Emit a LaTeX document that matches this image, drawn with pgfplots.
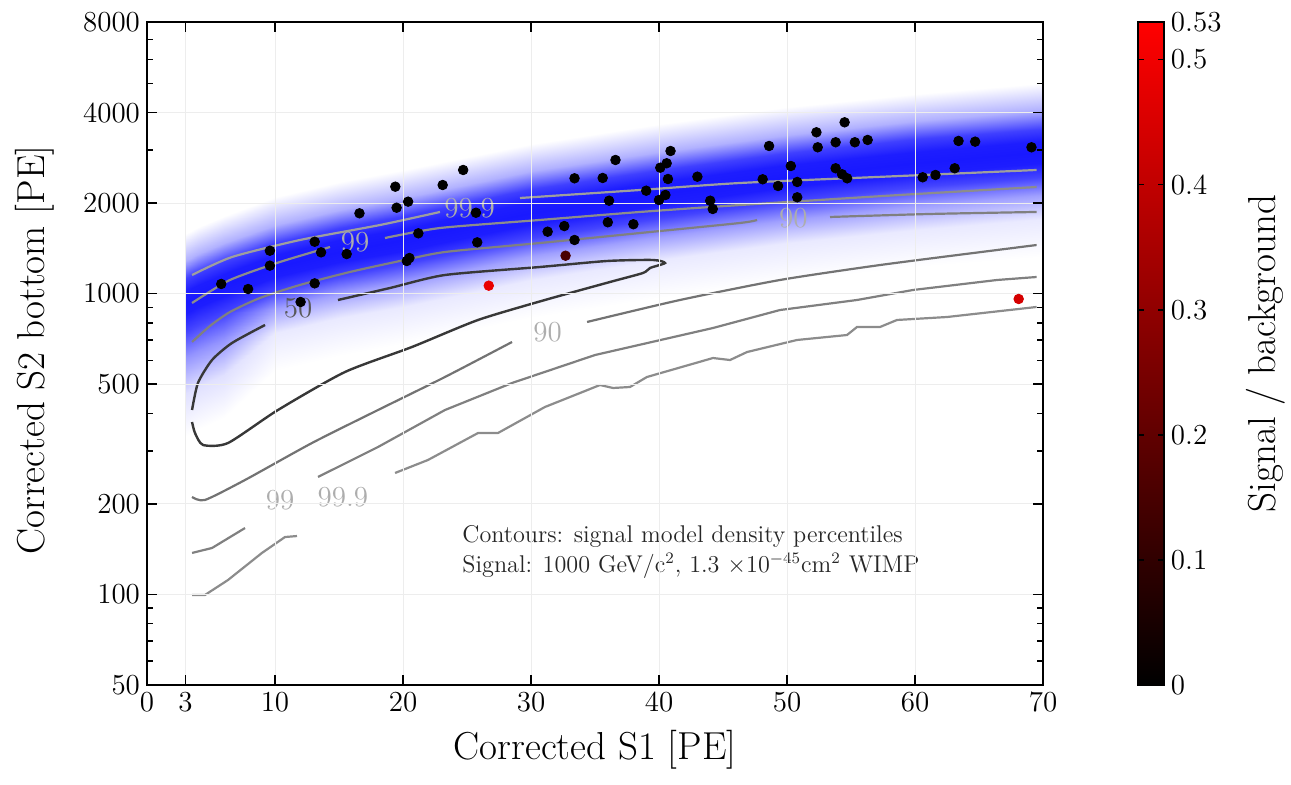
\documentclass[border=0pt]{standalone}
\usepackage{fontspec}
\usepackage{pgfplots}
\pgfplotsset{compat=1.18}
\pgfplotsset{
  colormap={bandblue}{rgb255=(255,255,255) rgb255=(25,25,255)},
  colormap={sbr}{rgb255=(0,0,0) rgb255=(255,0,0)},
}
\newcommand{\tickfont}{\fontsize{14.5}{16}\selectfont}
\newcommand{\labfont}{\fontsize{19.5}{22}\selectfont}
\newcommand{\notefont}{\fontsize{12.1}{14.5}\selectfont}

\pgfplotstableread{
x y m
3 335 0
3 465 0.07
3 614 0.25
3 744 0.43
3 856 0.52
3 930 0.53
3 1014 0.52
3 1116 0.44
3 1283 0.18
3 1581 0
4 353 0
4 490 0.07
4 647 0.25
4 784 0.43
4 902 0.52
4 980 0.53
4 1068 0.52
4 1176 0.44
4 1352 0.18
4 1666 0
6 385 0
6 535 0.07
6 706 0.25
6 856 0.43
6 984 0.52
6 1070 0.53
6 1166 0.52
6 1284 0.44
6 1477 0.18
6 1819 0
10 554 0
10 738 0.05
10 886 0.22
10 1021 0.43
10 1132 0.52
10 1230 0.53
10 1341 0.52
10 1476 0.44
10 1697 0.18
10 2091 0
15 621 0
15 828 0.05
15 994 0.22
15 1145 0.43
15 1270 0.52
15 1380 0.53
15 1504 0.52
15 1656 0.44
15 1904 0.18
15 2346 0
20 680 0
20 906 0.05
20 1087 0.22
20 1253 0.43
20 1389 0.52
20 1510 0.53
20 1646 0.52
20 1812 0.44
20 2084 0.18
20 2567 0
30 833 0
30 1110 0.05
30 1332 0.22
30 1536 0.43
30 1702 0.52
30 1850 0.53
30 2017 0.52
30 2220 0.44
30 2553 0.18
30 3145 0
40 968 0
40 1290 0.05
40 1548 0.22
40 1785 0.43
40 1978 0.52
40 2150 0.53
40 2344 0.52
40 2580 0.44
40 2967 0.18
40 3655 0
50 1103 0
50 1470 0.05
50 1764 0.22
50 2034 0.43
50 2254 0.52
50 2450 0.53
50 2671 0.52
50 2940 0.44
50 3381 0.18
50 4165 0
60 1224 0
60 1632 0.05
60 1958 0.22
60 2258 0.43
60 2502 0.52
60 2720 0.53
60 2965 0.52
60 3264 0.44
60 3754 0.18
60 4624 0
70 1328 0
70 1770 0.05
70 2124 0.22
70 2449 0.43
70 2714 0.52
70 2950 0.53
70 3216 0.52
70 3540 0.44
70 4071 0.18
70 5015 0
}\bandtable

\pgfplotstableread{
x y m
5.8 1077 0
7.9 1036 0
9.6 1389 0
9.6 1239 0
12.0 938 0
13.1 1488 0
13.1 1082 0
13.6 1372 0
15.6 1354 0
16.6 1850 0
19.4 2268 0
19.5 1931 0
20.4 2022 0
21.2 1587 0
20.3 1284 0
20.5 1314 0
23.1 2297 0
24.7 2577 0
25.7 1858 0
25.8 1481 0
31.3 1607 0
32.6 1678 0
33.4 2418 0
33.4 1508 0
32.7 1337 0.15
26.7 1063 0.48
35.6 2424 0
36.6 2782 0
36.1 2037 0
36.0 1727 0
38.0 1701 0
39.0 2199 0
40.0 2048 0
40.5 2128 0
40.1 2623 0
40.6 2713 0
40.9 2980 0
40.7 2405 0
43.0 2448 0
44.0 2037 0
44.2 1912 0
48.6 3097 0
48.1 2400 0
49.3 2280 0
50.3 2657 0
50.8 2351 0
50.8 2091 0
52.3 3439 0
52.4 3066 0
53.8 3186 0
54.5 3712 0
55.3 3186 0
56.3 3243 0
53.8 2611 0
54.3 2494 0
54.7 2418 0
60.6 2437 0
61.6 2480 0
63.1 2611 0
63.4 3218 0
64.7 3201 0
69.1 3066 0
68.1 960 0.44
}\pointtable

\begin{document}
\begin{tikzpicture}
\useasboundingbox (-73.5pt,-49.5pt) rectangle (572pt,342.5pt);
\begin{axis}[
  at={(0,0)}, anchor=south west,
  scale only axis, width=448pt, height=331.5pt,
  xmin=0, xmax=70, ymin=50, ymax=8000, ymode=log,
  xtick={0,3,10,20,30,40,50,60,70},
  xticklabels={0,3,10,20,30,40,50,60,70},
  ytick={50,100,200,500,1000,2000,4000,8000},
  yticklabels={50,100,200,500,1000,2000,4000,8000},
  minor ytick={60,70,80,90,300,400,600,700,800,900,3000,5000,6000,7000},
  tick label style={font=\tickfont},
  xlabel={Corrected S1 [PE]},
  ylabel={Corrected S2 bottom [PE]},
  label style={font=\labfont},
  xlabel style={at={(axis description cs:0.5,-0.098)}, anchor=center},
  ylabel style={at={(axis description cs:-0.125,0.505)}, anchor=center},
  axis line style={line width=1pt},
  tick style={black, line width=0.8pt},
  major tick length=5pt, minor tick length=3pt,
  grid=major, major grid style={black!7, line width=0.5pt},
  axis on top,
  colormap name=sbr,
  point meta min=0, point meta max=0.53,
  colorbar,
  colorbar/width=13pt,
  colorbar shift/.style={xshift=37pt},
  colorbar style={
    ytick={0,0.1,0.2,0.3,0.4,0.5,0.53},
    yticklabels={0,0.1,0.2,0.3,0.4,0.5,0.53},
    yticklabel style={font=\tickfont},
    ylabel={Signal / background},
    ylabel style={font=\labfont, at={(axis description cs:4.9,0.5)}, anchor=center},
    axis line style={line width=0.8pt},
    major tick length=3pt,
  },
]
% background density band
\addplot[surf, shader=interp, colormap name=bandblue, mesh/cols=10,
  point meta=explicit, forget plot] table[x=x, y=y, meta=m] {\bandtable};

% 50 percentile contour
\addplot[no marks, black!78, line width=1.2pt, smooth, tension=0.4, forget plot] coordinates {
 (3.52,410.4) (3.98,504.7) (5.08,601.7) (6.64,685.5) (9.22,786.8)};
\addplot[no marks, black!78, line width=1.2pt, smooth, tension=0.4, forget plot] coordinates {
 (14.92,952.6) (18.98,1044.2) (23.28,1153.5) (30.70,1226.4) (35.94,1284.0) (39.53,1293.9)
 (40.47,1264.5) (39.30,1217.1) (38.75,1171.4) (36.17,1093.3) (31.09,952.6) (25.86,817.4)
 (20.70,664.8) (15.47,549.0) (10.23,410.4) (6.33,318.8) (4.38,314.0) (3.75,344.1) (3.52,374.4)};

% 90 percentile contour
\addplot[no marks, black!55, line width=1.1pt, smooth, tension=0.4, forget plot] coordinates {
 (3.52,210.9) (4.53,206.1) (7.66,240.2) (12.89,318.8) (18.05,410.4) (23.28,528.4) (28.52,690.8)};
\addplot[no marks, black!55, line width=1.1pt, smooth, tension=0.4, forget plot] coordinates {
 (34.38,805.1) (41.64,952.6) (49.45,1110.2) (57.27,1245) (66.41,1396.6) (69.5,1451)};
\addplot[no marks, black!50, line width=1.1pt, smooth, tension=0.4, forget plot] coordinates {
 (3.52,690.8) (4.92,780.8) (6.48,868.8) (8.83,967.3) (11.95,1068.5) (15.86,1180.4)
 (19.77,1284.0) (23.28,1375.4) (30.70,1473.5) (38.52,1590.9) (46.33,1717.9) (47.66,1757.8)};
\addplot[no marks, black!50, line width=1.1pt, smooth, tension=0.4, forget plot] coordinates {
 (53.36,1798.6) (61.17,1840.4) (69.5,1869)};

% 99 percentile contour
\addplot[no marks, black!50, line width=1.1pt, forget plot] coordinates {
 (3.52,137.4) (5.08,142.7) (7.66,166.3)};
\addplot[no marks, black!50, line width=1.1pt, forget plot] coordinates {
 (13.36,245.8) (18.05,309.2) (23.28,410.4) (28.52,504.7) (35.0,625.2) (44.22,768.9)
 (49.45,882.2) (55.47,952.6) (59.84,1028.3) (66.41,1110.2) (69.5,1136)};
\addplot[no marks, black!45, line width=1.1pt, smooth, tension=0.4, forget plot] coordinates {
 (3.52,931) (6.48,1110.2) (10.39,1274.3) (14.30,1429.1)};
\addplot[no marks, black!45, line width=1.1pt, smooth, tension=0.4, forget plot] coordinates {
 (18.59,1531.1) (22.89,1652.9) (30.70,1757.8) (38.52,1868.8) (46.33,1970.9) (58.83,2128.1) (69.5,2262)};

% 99.9 percentile contour
\addplot[no marks, black!45, line width=1.1pt, forget plot] coordinates {
 (3.52,99.6) (4.53,99.6) (6.33,111.7) (8.98,137.4) (10.78,155.2) (11.72,156.4)};
\addplot[no marks, black!45, line width=1.1pt, forget plot] coordinates {
 (19.38,253.4) (21.95,279.9) (25.86,344.1) (27.42,344.1) (31.09,420.0) (33.83,467.4)
 (35.39,496.9) (36.41,485.7) (37.73,489.4) (39.06,528.4) (44.22,611.0) (45.55,601.7)
 (46.88,639.7) (50.78,701.4) (54.69,728.7) (55.47,774.9) (57.27,774.9) (58.59,817.4)
 (62.5,836.3) (69.5,903)};
\addplot[no marks, black!38, line width=1.1pt, smooth, tension=0.4, forget plot] coordinates {
 (3.52,1153.5) (6.64,1324.0) (11.95,1508) (18.20,1691.3) (22.89,1868.8)};
\addplot[no marks, black!38, line width=1.1pt, smooth, tension=0.4, forget plot] coordinates {
 (29.14,2079.6) (38.52,2211) (46.33,2332.7) (58.83,2461) (69.5,2577)};

% contour labels
\node[font=\tickfont, text=black!65] at (axis cs:11.8,896) {50};
\node[font=\tickfont, text=black!32] at (axis cs:31.3,746) {90};
\node[font=\tickfont, text=black!32] at (axis cs:50.5,1784) {90};
\node[font=\tickfont, text=black!32] at (axis cs:16.25,1485) {99};
\node[font=\tickfont, text=black!32] at (axis cs:25.2,1926) {99.9};
\node[font=\tickfont, text=black!32] at (axis cs:10.4,206) {99};
\node[font=\tickfont, text=black!32] at (axis cs:15.3,211) {99.9};

% events
\addplot[scatter, only marks, mark=*, mark size=2.4pt, point meta=explicit,
  scatter/use mapped color={draw=mapped color, fill=mapped color},
  colorbar source] table[x=x, y=y, meta=m] {\pointtable};

% annotation
\node[anchor=base west, inner sep=0pt, font=\notefont, text=black!85] at (rel axis cs:0.3516,0.2142)
  {Contours: signal model density percentiles};
\node[anchor=base west, inner sep=0pt, font=\notefont, text=black!85] at (rel axis cs:0.3516,0.1704)
  {Signal: 1000 GeV/c$^2$, 1.3 $\times$10$^{-45}$cm$^2$ WIMP};
\end{axis}
\end{tikzpicture}
\end{document}
